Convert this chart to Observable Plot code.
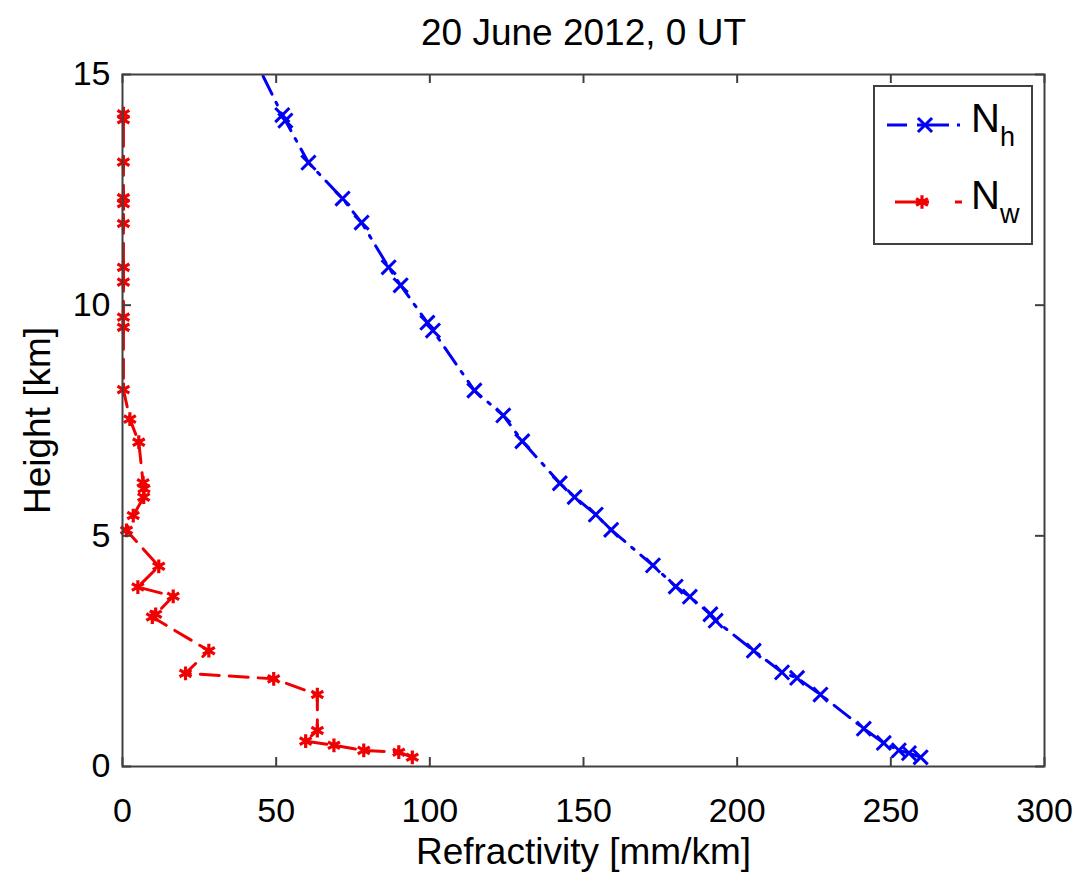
<!DOCTYPE html>
<html><head><meta charset="utf-8">
<script src="https://cdn.jsdelivr.net/npm/d3@7"></script>
<script src="https://cdn.jsdelivr.net/npm/@observablehq/plot@0.6"></script>
<style>
body{margin:0;background:#fff;font-family:"Liberation Sans",Arial,sans-serif}
#wrap{position:relative;width:1076px;height:876px}
#legend{position:absolute;left:873px;top:85px}
</style>
</head><body><div id="wrap"></div>
<script>
const titleText = "20 June 2012, 0 UT";
const xLabel = "Refractivity [mm/km]";
const yLabel = "Height [km]";
const xTicks = [0, 50, 100, 150, 200, 250, 300];
const yTicks = [0, 5, 10, 15];
const seriesNames = ["N", "N"];
const seriesSubs = ["h", "w"];

// N_h (hydrostatic) — refractivity and height
const nhRefractivity = [259.7, 255.9, 252.6, 247.7, 241.2, 227.1, 219.5, 214.6, 205.4, 193.0, 191.3, 184.6, 180.0, 172.6, 159.0, 154.0, 147.1, 142.3, 130.1, 123.9, 114.5, 101.0, 99.2, 90.5, 86.6, 77.8, 71.6, 60.5, 53.0, 52.0, 44.0];
const nhHeight       = [0.20, 0.29, 0.35, 0.51, 0.82, 1.56, 1.92, 2.04, 2.51, 3.16, 3.30, 3.68, 3.90, 4.36, 5.13, 5.46, 5.84, 6.14, 7.05, 7.61, 8.15, 9.45, 9.62, 10.43, 10.82, 11.79, 12.31, 13.09, 14.00, 14.12, 15.20];

// N_w (wet) — refractivity and height
const nwRefractivity = [94.3, 89.9, 78.5, 68.8, 59.6, 63.4, 63.4, 49.2, 20.5, 28.1, 9.7, 10.8, 16.5, 5.0, 11.8, 1.3, 3.5, 6.9, 7.0, 6.7, 5.3, 2.4, 0.3, 0.3, 0.3, 0.3, 0.3, 0.3, 0.3, 0.3, 0.3, 0.3, 0.3];
const nwHeight       = [0.20, 0.31, 0.35, 0.46, 0.55, 0.78, 1.56, 1.90, 2.02, 2.51, 3.24, 3.30, 3.69, 3.89, 4.34, 5.12, 5.44, 5.84, 6.02, 6.15, 7.03, 7.53, 8.17, 9.52, 9.74, 10.50, 10.82, 11.77, 12.20, 12.33, 13.10, 14.02, 14.15];

const blue = "#0000f5", red = "#f00000", axisColor = "#404040";
const nh = nhRefractivity.map((r, i) => ({r, h: nhHeight[i]}));
const nw = nwRefractivity.map((r, i) => ({r, h: nwHeight[i]}));

const W = 1076, H = 876, mL = 122, mR = 32, mT = 74, mB = 110;
const fw = W - mL - mR, fh = H - mT - mB;
const font = "Liberation Sans, Arial, sans-serif";

const chart = Plot.plot({
  width: W, height: H,
  marginLeft: mL, marginRight: mR, marginTop: mT, marginBottom: mB,
  x: {domain: [0, 300]},
  y: {domain: [0, 15]},
  style: {fontFamily: font, background: "white", color: "black"},
  marks: [
    Plot.line(nh, {x: "r", y: "h", stroke: blue, strokeWidth: 3, strokeDasharray: "20,9,3,9", clip: true}),
    Plot.dot(nh, {x: "r", y: "h", symbol: "times", r: 6.5, stroke: blue, strokeWidth: 3, clip: true}),
    Plot.line(nw, {x: "r", y: "h", stroke: red, strokeWidth: 3, strokeDasharray: "19,10"}),
    Plot.dot(nw, {x: "r", y: "h", symbol: "asterisk", r: 6.5, stroke: red, strokeWidth: 3.2}),
    Plot.tickX(xTicks, {x: d => d, insetTop: fh - 9, stroke: axisColor, strokeWidth: 2}),
    Plot.tickX(xTicks, {x: d => d, insetBottom: fh - 9, stroke: axisColor, strokeWidth: 2}),
    Plot.tickY(yTicks, {y: d => d, insetRight: fw - 9, stroke: axisColor, strokeWidth: 2}),
    Plot.tickY(yTicks, {y: d => d, insetLeft: fw - 9, stroke: axisColor, strokeWidth: 2}),
    Plot.frame({stroke: axisColor, strokeWidth: 2}),
    Plot.axisX({ticks: xTicks, tickSize: 0, tickPadding: 31, fontSize: 34, label: null}),
    Plot.axisY({ticks: yTicks, tickSize: 0, tickPadding: 12, fontSize: 34, label: null}),
    Plot.text([xLabel], {text: d => d, frameAnchor: "bottom", lineAnchor: "middle", textAnchor: "middle", dy: 86, fontSize: 37, fill: "black"}),
    Plot.text([yLabel], {text: d => d, frameAnchor: "left", lineAnchor: "middle", textAnchor: "middle", dx: -84, rotate: -90, fontSize: 37, fill: "black"}),
    Plot.text([titleText], {text: d => d, frameAnchor: "top", lineAnchor: "middle", textAnchor: "middle", dy: -41, fontSize: 37, fill: "black"})
  ]
});
const wrap = document.getElementById("wrap");
wrap.appendChild(chart);

// legend overlay
const lg = d3.select(wrap).append("svg").attr("id", "legend")
  .attr("width", 162).attr("height", 162);
lg.append("rect").attr("x", 1).attr("y", 1).attr("width", 158).attr("height", 158)
  .attr("fill", "white").attr("stroke", axisColor).attr("stroke-width", 2);
const entries = [
  {color: blue, y: 40, x1: 14, x2: 87, dash: "20,10,32,8,3", mx: 52, sym: d3.symbolTimes, sw: 3, ty: 47},
  {color: red, y: 117, x1: 22, x2: 89, dash: "34,26,8", mx: 49, sym: d3.symbolAsterisk, sw: 3.2, ty: 124}
];
entries.forEach((e, i) => {
  lg.append("line").attr("x1", e.x1).attr("x2", e.x2).attr("y1", e.y).attr("y2", e.y)
    .attr("stroke", e.color).attr("stroke-width", 3).attr("stroke-dasharray", e.dash);
  lg.append("path").attr("d", d3.symbol().type(e.sym).size(Math.PI * 42)())
    .attr("transform", `translate(${e.mx},${e.y})`)
    .attr("fill", "none").attr("stroke", e.color).attr("stroke-width", e.sw);
  const t = lg.append("text").attr("x", 98).attr("y", e.ty)
    .attr("font-family", font).attr("font-size", 40).attr("fill", "black");
  t.append("tspan").text(seriesNames[i]);
  t.append("tspan").attr("dy", 14).attr("font-size", 27).text(seriesSubs[i]);
});
</script>
</body></html>
